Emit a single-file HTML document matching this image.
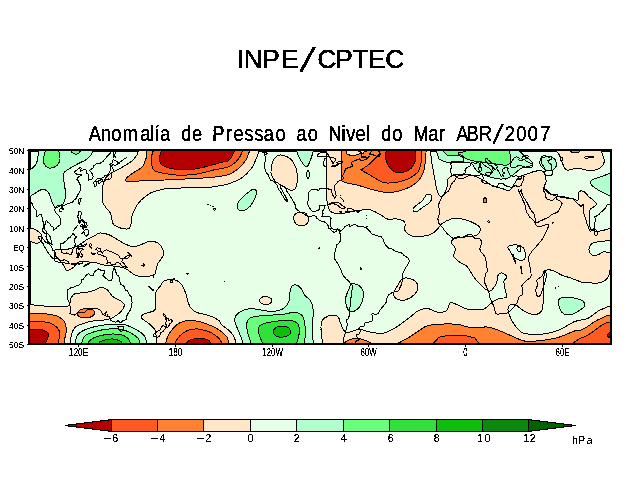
<!DOCTYPE html>
<html><head><meta charset="utf-8"><style>
html,body{margin:0;padding:0;background:#fff;}
svg{display:block;}
text{font-family:"Liberation Sans",Arial,sans-serif;fill:#000;}
</style></head><body>
<svg width="640" height="494" viewBox="0 0 640 494">
<rect width="640" height="494" fill="#fff"/>
<g filter="url(#bin)">
<text x="236.68 243.85 262.35 281.25 299.48 317.57 335.15 352.41 368.05 385.27" y="68 68 68 68 71.15 68 68 68 68 68" rotate="0 0 0 0 12.97 0 0 0 0 0" font-size="26.2" stroke="#000" stroke-width="0.25">INPE<tspan font-size="37.20" stroke-width="0">/</tspan>CPTEC</text>
<text transform="scale(0.840,1)" x="105.79 119.98 132.54 145.93 166.93 178.30 183.80 190.50 203.82 215.63 228.60 240.94 252.68 268.67 278.12 291.06 302.96 314.07 328.01 340.42 353.12 366.46 378.87 390.95 406.52 412.13 423.36 435.44 440.01 453.85 467.06 479.46 492.38 509.90 522.48 530.57 543.17 555.48 569.88 586.26 600.93 614.74 628.31 643.05" y="141 141 141 141 141 141 141 141 141 141 141 141 141 141 141 141 141 141 141 141 141 141 141 141 141 141 141 141 141 141 141 141 141 141 141 141 141 141 141 143.22 141 141 141 141" rotate="0 0 0 0 0 0 0 0 0 0 0 0 0 0 0 0 0 0 0 0 0 0 0 0 0 0 0 0 0 0 0 0 0 0 0 0 0 0 0 13.78 0 0 0 0" font-size="21.8" stroke="#000" stroke-width="0.12">Anomalía de Pressao ao Nivel do Mar ABR<tspan font-size="29.98" stroke-width="0">/</tspan>2007</text>
</g>
<defs><filter id="bin" x="0" y="0" width="100%" height="100%" filterUnits="userSpaceOnUse"><feComponentTransfer><feFuncA type="discrete" tableValues="0 1 1"/></feComponentTransfer></filter><filter id="bin2" x="0" y="0" width="100%" height="100%" filterUnits="userSpaceOnUse"><feComponentTransfer><feFuncA type="discrete" tableValues="0 0 1 1 1"/></feComponentTransfer></filter><clipPath id="mc"><rect x="29" y="150" width="582" height="194"/></clipPath></defs>
<g clip-path="url(#mc)" shape-rendering="crispEdges">
<g stroke="#000" stroke-width="1">
<rect x="30" y="151" width="580" height="192" fill="#e6ffe6"/>
<path d="M138.50,150.00 L137.50,154.25 C136.67,155.29 134.58,158.62 132.50,160.50 C130.42,162.38 127.25,164.08 125.00,165.50 C122.75,166.92 120.83,168.00 119.00,169.00 C117.17,170.00 115.83,170.42 114.00,171.50 C112.17,172.58 109.62,174.08 108.00,175.50 C106.38,176.92 105.13,178.42 104.30,180.00 C103.47,181.58 103.30,182.50 103.00,185.00 C102.70,187.50 102.60,192.17 102.50,195.00 C102.40,197.83 101.75,199.80 102.40,202.00 C103.05,204.20 105.05,206.33 106.40,208.20 C107.75,210.07 109.57,211.18 110.50,213.20 C111.43,215.22 111.50,218.43 112.00,220.30 C112.50,222.17 112.40,223.22 113.50,224.40 C114.60,225.58 116.75,226.65 118.60,227.40 C120.45,228.15 122.87,228.72 124.60,228.90 C126.33,229.08 127.93,229.32 129.00,228.50 C130.07,227.68 130.50,226.08 131.00,224.00 C131.50,221.92 131.33,218.50 132.00,216.00 C132.67,213.50 133.92,211.17 135.00,209.00 C136.08,206.83 137.07,204.83 138.50,203.00 C139.93,201.17 141.45,199.75 143.60,198.00 C145.75,196.25 148.67,193.83 151.40,192.50 C154.13,191.17 157.40,190.65 160.00,190.00 C162.60,189.35 161.92,188.97 167.00,188.60 C172.08,188.23 184.00,187.93 190.50,187.80 C197.00,187.67 201.42,188.10 206.00,187.80 C210.58,187.50 214.33,186.63 218.00,186.00 C221.67,185.37 224.00,185.38 228.00,184.00 C232.00,182.62 238.10,180.32 242.00,177.70 C245.90,175.08 248.92,171.68 251.40,168.30 C253.88,164.92 255.98,159.22 256.90,157.40 L259.50,150.00 L138.50,150.00Z" fill="#ffe6c6"/>
<path d="M281.10,155.00 C283.45,155.40 288.02,156.78 290.50,159.00 C292.98,161.22 294.83,164.93 296.00,168.30 C297.17,171.68 297.63,175.87 297.50,179.25 C297.37,182.63 296.37,186.78 295.20,188.60 C294.03,190.42 292.32,190.47 290.50,190.20 C288.68,189.93 286.85,188.57 284.25,187.00 C281.65,185.43 277.11,183.13 274.90,180.80 C272.69,178.47 271.40,176.13 271.00,173.00 C270.60,169.87 271.60,164.73 272.50,162.00 C273.40,159.27 274.97,157.77 276.40,156.60 C277.83,155.43 278.75,154.60 281.10,155.00Z" fill="#ffe6c6"/>
<path d="M326.00,150.00 L430.30,150.00 L432.00,163.60 C432.38,165.67 433.48,171.83 434.25,176.00 C435.02,180.17 435.81,185.45 436.60,188.60 C437.39,191.75 438.10,193.67 439.00,194.90 C439.90,196.13 440.71,197.05 442.00,196.00 C443.29,194.95 445.83,191.27 446.75,188.60 C447.67,185.93 446.74,182.05 447.50,180.00 C448.26,177.95 449.43,177.23 451.30,176.30 C453.18,175.37 455.97,174.72 458.75,174.40 C461.53,174.08 464.88,173.93 468.00,174.40 C471.12,174.87 474.67,176.10 477.50,177.20 C480.33,178.30 482.50,179.60 485.00,181.00 C487.50,182.40 489.67,184.35 492.50,185.60 C495.33,186.85 499.18,187.72 502.00,188.50 C504.82,189.28 507.23,191.25 509.40,190.30 C511.57,189.35 513.43,184.98 515.00,182.80 C516.57,180.62 516.92,178.60 518.80,177.20 C520.68,175.80 523.80,175.33 526.30,174.40 C528.80,173.47 531.30,172.23 533.80,171.60 C536.30,170.97 539.43,170.13 541.30,170.60 C543.17,171.07 544.22,172.52 545.00,174.40 C545.78,176.28 546.17,179.72 546.00,181.90 C545.83,184.08 543.83,185.78 544.00,187.50 C544.17,189.22 544.95,190.78 547.00,192.20 C549.05,193.62 553.53,195.23 556.30,196.00 C559.07,196.77 560.95,196.33 563.60,196.80 C566.25,197.27 569.77,198.27 572.20,198.80 C574.63,199.33 577.10,201.10 578.20,200.00 C579.30,198.90 577.88,193.62 578.80,192.20 C579.72,190.78 581.97,190.70 583.70,191.50 C585.43,192.30 587.28,195.27 589.20,197.00 C591.12,198.73 594.10,200.48 595.20,201.90 C596.30,203.32 596.60,204.28 595.80,205.50 C595.00,206.72 591.50,207.37 590.40,209.20 C589.30,211.03 589.20,213.27 589.20,216.50 C589.20,219.73 589.60,226.18 590.40,228.60 C591.20,231.02 592.38,230.60 594.00,231.00 C595.62,231.40 597.47,231.40 600.10,231.00 C602.73,230.60 608.18,229.00 609.80,228.60 L611.00,228.40 L611.00,240.40 L610.30,240.40 C607.57,240.77 597.37,241.52 593.90,242.60 C590.43,243.68 590.15,245.17 589.50,246.90 C588.85,248.63 589.08,251.53 590.00,253.00 C590.92,254.47 592.72,255.90 595.00,255.70 C597.28,255.50 602.25,252.45 603.70,251.80 L611.00,252.40 L611.00,266.00 L609.20,274.30 C608.65,275.20 607.72,278.25 605.90,279.70 C604.08,281.15 601.45,282.50 598.30,283.00 C595.15,283.50 589.73,282.83 587.00,282.70 C584.27,282.57 584.58,282.97 581.90,282.20 C579.22,281.43 574.22,279.27 570.90,278.10 C567.58,276.93 565.05,276.47 562.00,275.20 C558.95,273.93 555.33,271.28 552.60,270.50 C549.87,269.72 547.03,269.58 545.60,270.50 C544.17,271.42 544.35,273.48 544.00,276.00 C543.65,278.52 543.62,281.39 543.50,285.60 C543.38,289.81 543.55,297.08 543.25,301.25 C542.95,305.42 543.01,308.39 541.70,310.60 C540.39,312.81 538.02,314.23 535.40,314.50 C532.78,314.77 528.86,313.50 526.00,312.20 C523.14,310.90 520.13,308.00 518.25,306.70 C516.37,305.40 516.14,304.65 514.70,304.40 C513.26,304.15 510.72,304.27 509.60,305.20 C508.48,306.13 507.80,307.80 508.00,310.00 C508.20,312.20 509.55,315.69 510.80,318.40 C512.05,321.11 513.67,323.90 515.50,326.25 C517.33,328.60 519.67,331.21 521.75,332.50 C523.83,333.79 524.42,333.75 528.00,334.00 C531.58,334.25 538.10,334.63 543.25,334.00 C548.40,333.37 553.69,332.27 558.90,330.20 C564.11,328.13 569.77,323.52 574.50,321.60 C579.23,319.68 583.95,320.03 587.30,318.70 C590.65,317.37 592.67,314.93 594.60,313.60 C596.53,312.27 597.04,311.72 598.90,310.70 C600.76,309.68 604.61,308.03 605.75,307.50 L611.00,305.50 L611.00,344.00 L322.50,344.00 L321.00,329.40 C321.12,328.10 320.58,323.82 321.75,321.60 C322.92,319.38 325.39,317.02 328.00,316.10 C330.61,315.18 335.32,314.93 337.40,316.10 C339.48,317.27 339.47,320.75 340.50,323.10 C341.53,325.45 342.30,328.63 343.60,330.20 C344.90,331.77 345.69,332.63 348.30,332.50 C350.91,332.37 355.87,329.53 359.25,329.40 C362.63,329.27 364.69,331.05 368.60,331.70 C372.51,332.35 378.27,333.95 382.70,333.30 C387.13,332.65 390.77,330.40 395.20,327.80 C399.62,325.20 405.35,320.57 409.25,317.70 C413.15,314.83 415.48,312.12 418.60,310.60 C421.73,309.08 424.87,308.33 428.00,308.60 C431.13,308.87 434.27,311.87 437.40,312.20 C440.52,312.53 444.67,312.17 446.75,310.60 C448.83,309.03 448.59,303.97 449.90,302.80 C451.21,301.63 451.75,302.57 454.60,303.60 C457.45,304.63 462.83,308.00 467.00,309.00 C471.17,310.00 476.67,309.63 479.60,309.60 C482.53,309.57 482.45,310.05 484.60,308.80 C486.75,307.55 490.07,303.82 492.50,302.10 C494.93,300.38 496.87,299.32 499.20,298.50 C501.53,297.68 505.50,298.62 506.50,297.20 C507.50,295.78 505.62,292.63 505.20,290.00 C504.78,287.37 503.70,283.63 504.00,281.40 C504.30,279.17 507.40,278.02 507.00,276.60 C506.60,275.18 503.10,273.10 501.60,272.90 C500.10,272.70 498.92,273.57 498.00,275.40 C497.08,277.23 497.53,281.27 496.10,283.90 C494.67,286.53 492.13,291.20 489.40,291.20 C486.67,291.20 482.38,286.39 479.70,283.90 C477.02,281.41 474.62,277.97 473.30,276.25 C471.98,274.53 472.92,275.34 471.75,273.60 C470.58,271.86 468.38,267.75 466.30,265.80 C464.22,263.85 461.33,263.47 459.25,261.90 C457.17,260.33 454.46,258.62 453.80,256.40 C453.14,254.18 455.70,250.93 455.30,248.60 C454.90,246.27 451.52,244.08 451.40,242.40 C451.28,240.72 452.25,239.42 454.60,238.50 C456.95,237.58 461.87,237.43 465.50,236.90 C469.13,236.37 473.93,236.62 476.40,235.30 C478.87,233.98 480.55,230.95 480.30,229.00 C480.05,227.05 477.88,225.27 474.90,223.60 C471.92,221.93 466.32,219.77 462.40,219.00 C458.48,218.23 454.80,218.23 451.40,219.00 C448.00,219.77 444.15,222.10 442.00,223.60 C439.85,225.10 439.79,226.57 438.50,228.00 C437.21,229.43 436.00,230.98 434.25,232.20 C432.50,233.42 430.71,234.58 428.00,235.30 C425.29,236.02 420.60,236.37 418.00,236.50 C415.40,236.63 414.52,236.95 412.40,236.10 C410.28,235.25 406.60,233.75 405.30,231.40 C404.00,229.05 406.03,224.07 404.60,222.00 C403.18,219.93 399.62,219.50 396.75,219.00 C393.88,218.50 390.02,219.67 387.40,219.00 C384.77,218.33 383.61,216.45 381.00,215.00 C378.39,213.55 374.05,211.22 371.75,210.30 C369.45,209.38 370.04,209.38 367.20,209.50 C364.36,209.62 358.87,210.35 354.70,211.00 C350.53,211.65 346.11,213.25 342.20,213.40 C338.29,213.55 333.70,213.47 331.25,211.90 C328.80,210.33 328.38,207.65 327.50,204.00 C326.62,200.35 326.25,192.33 326.00,190.00 L326.00,150.00Z" fill="#ffe6c6"/>
<path d="M555.75,150.00 L558.90,154.25 C559.42,155.54 560.70,159.39 562.00,162.00 C563.30,164.61 564.10,168.85 566.70,169.90 C569.30,170.95 573.72,168.17 577.60,168.30 C581.48,168.43 586.35,170.70 590.00,170.70 C593.65,170.70 597.13,169.75 599.50,168.30 C601.87,166.85 603.68,164.34 604.20,162.00 C604.72,159.66 602.87,155.54 602.60,154.25 L601.00,150.00 L555.75,150.00Z" fill="#ffe6c6"/>
<path d="M29.00,228.60 L33.90,228.80 C34.60,229.25 36.87,230.62 38.10,231.50 C39.33,232.38 40.65,233.05 41.30,234.10 C41.95,235.15 42.10,236.57 42.00,237.80 C41.90,239.03 41.43,240.58 40.70,241.50 C39.97,242.42 38.73,243.08 37.60,243.30 C36.47,243.52 35.05,243.10 33.90,242.80 C32.75,242.50 31.23,241.72 30.70,241.50 L29.00,241.50 L29.00,228.60Z" fill="#ffe6c6"/>
<path d="M54.60,251.00 C54.85,250.08 54.03,249.67 56.10,249.40 C58.17,249.13 63.35,250.05 67.00,249.40 C70.65,248.75 74.60,247.19 78.00,245.50 C81.40,243.81 84.53,240.95 87.40,239.25 C90.27,237.55 93.10,236.34 95.20,235.30 C97.30,234.26 97.72,233.10 100.00,233.00 C102.28,232.90 106.12,233.68 108.90,234.70 C111.68,235.72 114.10,237.62 116.70,239.10 C119.30,240.58 121.72,242.30 124.50,243.60 C127.28,244.90 130.43,246.82 133.40,246.90 C136.37,246.98 139.53,245.03 142.30,244.10 C145.07,243.17 147.42,241.48 150.00,241.30 C152.58,241.12 155.67,241.70 157.80,243.00 C159.93,244.30 161.87,247.15 162.80,249.10 C163.73,251.05 163.85,252.83 163.40,254.70 C162.95,256.57 161.12,258.63 160.10,260.30 C159.08,261.97 158.13,262.48 157.30,264.70 C156.47,266.92 156.12,271.75 155.10,273.60 C154.08,275.45 152.97,275.25 151.20,275.80 C149.43,276.35 146.92,276.90 144.50,276.90 C142.08,276.90 138.93,276.53 136.70,275.80 C134.47,275.07 132.77,273.60 131.10,272.50 C129.43,271.40 128.55,270.13 126.70,269.20 C124.85,268.27 122.60,267.47 120.00,266.90 C117.40,266.33 114.07,266.17 111.10,265.80 C108.13,265.43 104.85,265.22 102.20,264.70 C99.55,264.18 98.97,263.17 95.20,262.70 C91.43,262.23 83.25,261.12 79.60,261.90 C75.95,262.68 75.40,265.97 73.30,267.40 C71.20,268.83 68.55,270.77 67.00,270.50 C65.45,270.23 65.29,267.62 64.00,265.80 C62.71,263.98 60.82,261.42 59.25,259.60 C57.68,257.78 55.38,256.33 54.60,254.90 C53.83,253.47 54.35,251.92 54.60,251.00Z" fill="#ffe6c6"/>
<path d="M29.00,304.50 L43.60,306.00 C45.68,306.12 53.37,306.55 56.10,306.70 C58.83,306.85 57.89,307.08 60.00,306.90 C62.11,306.72 66.88,307.17 68.75,305.60 C70.62,304.03 70.21,299.48 71.25,297.50 C72.29,295.52 72.71,294.58 75.00,293.75 C77.29,292.92 81.88,293.02 85.00,292.50 C88.12,291.98 91.04,291.43 93.75,290.60 C96.46,289.77 98.96,287.60 101.25,287.50 C103.54,287.40 105.62,288.54 107.50,290.00 C109.38,291.46 110.21,294.38 112.50,296.25 C114.79,298.12 119.27,299.79 121.25,301.25 C123.23,302.71 124.40,303.33 124.40,305.00 C124.40,306.67 122.82,309.38 121.25,311.25 C119.68,313.12 116.88,315.00 115.00,316.25 C113.12,317.50 111.88,318.12 110.00,318.75 C108.12,319.38 106.88,319.58 103.75,320.00 C100.62,320.42 94.79,320.62 91.25,321.25 C87.71,321.88 85.21,322.71 82.50,323.75 C79.79,324.79 76.80,325.86 75.00,327.50 C73.20,329.14 72.50,331.15 71.70,333.60 C70.90,336.05 70.45,340.77 70.20,342.20 L70.00,344.00 L29.00,344.00 L29.00,304.50Z" fill="#ffe6c6"/>
<path d="M164.00,281.00 C166.08,279.97 170.45,278.90 173.30,279.40 C176.15,279.90 179.02,281.67 181.10,284.00 C183.18,286.33 184.73,290.73 185.80,293.40 C186.87,296.07 186.70,297.60 187.50,300.00 C188.30,302.40 189.03,305.72 190.60,307.80 C192.17,309.88 193.77,311.20 196.90,312.50 C200.03,313.80 205.76,314.30 209.40,315.60 C213.04,316.90 216.70,318.78 218.75,320.30 C220.80,321.82 220.03,323.05 221.70,324.70 C223.37,326.35 226.92,328.52 228.75,330.20 C230.58,331.88 231.66,333.25 232.70,334.80 C233.74,336.35 234.48,338.13 235.00,339.50 C235.52,340.87 235.67,342.42 235.80,343.00 L235.80,344.00 L156.10,344.00 L156.10,335.60 C155.85,334.57 155.90,331.48 154.60,329.40 C153.30,327.32 150.40,324.93 148.30,323.10 C146.20,321.27 142.92,319.83 142.00,318.40 C141.08,316.97 141.48,315.53 142.80,314.50 C144.12,313.47 147.82,313.12 149.90,312.20 C151.98,311.28 154.40,312.13 155.30,309.00 C156.20,305.87 154.38,297.30 155.30,293.40 C156.22,289.50 159.35,287.67 160.80,285.60 C162.25,283.53 161.92,282.03 164.00,281.00Z" fill="#ffe6c6"/>
<path d="M294.00,216.00 C294.42,214.50 295.67,213.58 297.00,213.00 C298.33,212.42 300.42,212.33 302.00,212.50 C303.58,212.67 305.42,213.08 306.50,214.00 C307.58,214.92 308.25,216.58 308.50,218.00 C308.75,219.42 308.75,221.25 308.00,222.50 C307.25,223.75 305.50,225.00 304.00,225.50 C302.50,226.00 300.58,226.08 299.00,225.50 C297.42,224.92 295.33,223.58 294.50,222.00 C293.67,220.42 293.58,217.50 294.00,216.00Z" fill="#ffe6c6"/>
<path d="M259.50,299.50 C259.83,298.58 261.25,297.48 262.50,297.00 C263.75,296.52 265.58,296.35 267.00,296.60 C268.42,296.85 270.20,297.68 271.00,298.50 C271.80,299.32 272.13,300.58 271.80,301.50 C271.47,302.42 270.30,303.53 269.00,304.00 C267.70,304.47 265.42,304.55 264.00,304.30 C262.58,304.05 261.25,303.30 260.50,302.50 C259.75,301.70 259.17,300.42 259.50,299.50Z" fill="#ffe6c6"/>
<path d="M403.00,278.60 C405.48,277.57 409.93,278.23 412.40,279.40 C414.87,280.57 417.28,283.27 417.80,285.60 C418.32,287.93 417.47,291.05 415.50,293.40 C413.53,295.75 409.12,298.78 406.00,299.70 C402.88,300.62 398.82,299.95 396.75,298.90 C394.68,297.85 393.48,295.62 393.60,293.40 C393.73,291.18 395.93,288.07 397.50,285.60 C399.07,283.13 400.52,279.63 403.00,278.60Z" fill="#ffe6c6"/>
<path d="M413.40,208.10 C412.77,209.24 413.07,210.72 413.75,211.25 C414.43,211.78 416.04,211.88 417.50,211.25 C418.96,210.62 420.73,208.75 422.50,207.50 C424.27,206.25 426.64,205.00 428.10,203.75 C429.56,202.50 430.67,201.25 431.25,200.00 C431.83,198.75 431.91,197.18 431.60,196.25 C431.29,195.32 430.29,194.61 429.40,194.40 C428.51,194.19 427.19,194.28 426.25,195.00 C425.31,195.72 424.58,197.60 423.75,198.75 C422.92,199.90 422.29,200.96 421.25,201.90 C420.21,202.84 418.81,203.37 417.50,204.40 C416.19,205.43 414.02,206.96 413.40,208.10Z" fill="#e6ffe6"/>
<path d="M507.90,247.20 C508.17,246.10 510.27,245.40 512.10,245.10 C513.93,244.80 517.05,244.97 518.90,245.40 C520.75,245.83 522.23,246.73 523.20,247.70 C524.17,248.67 524.27,250.18 524.70,251.20 C525.13,252.22 525.80,252.50 525.80,253.80 C525.80,255.10 525.50,257.90 524.70,259.00 C523.90,260.10 522.32,260.40 521.00,260.40 C519.68,260.40 518.02,259.48 516.80,259.00 C515.58,258.52 514.75,258.72 513.70,257.50 C512.65,256.28 511.47,253.42 510.50,251.70 C509.53,249.98 507.63,248.30 507.90,247.20Z" fill="#e6ffe6"/>
<path d="M146.90,150.00 L146.25,158.00 C145.62,159.46 144.21,164.58 142.50,166.75 C140.79,168.92 138.08,169.62 136.00,171.00 C133.92,172.38 131.62,173.75 130.00,175.00 C128.38,176.25 126.75,177.42 126.25,178.50 C125.75,179.58 124.92,181.08 127.00,181.50 C129.08,181.92 134.68,181.22 138.75,181.00 C142.82,180.78 147.03,180.37 151.40,180.20 C155.78,180.03 161.07,180.12 165.00,180.00 C168.93,179.88 169.45,179.78 175.00,179.50 C180.55,179.22 191.63,178.72 198.30,178.30 C204.97,177.88 210.05,177.58 215.00,177.00 C219.95,176.42 224.67,175.80 228.00,174.80 C231.33,173.80 232.92,172.34 235.00,171.00 C237.08,169.66 238.54,168.75 240.50,166.75 C242.46,164.75 245.71,160.29 246.75,159.00 L249.90,150.00 L146.90,150.00Z" fill="#ff8232"/>
<path d="M341.50,150.00 L342.00,165.00 C341.92,167.33 341.18,176.15 341.50,179.00 C341.82,181.85 341.27,181.08 343.90,182.10 C346.53,183.12 352.60,183.87 357.30,185.10 C362.00,186.33 367.17,188.27 372.10,189.50 C377.03,190.73 382.45,192.25 386.90,192.50 C391.35,192.75 394.83,191.98 398.80,191.00 C402.77,190.02 407.23,188.57 410.70,186.60 C414.17,184.63 417.38,181.92 419.60,179.20 C421.82,176.48 423.02,173.52 424.00,170.30 C424.98,167.08 425.25,161.63 425.50,159.90 L426.20,150.00 L341.50,150.00Z" fill="#ff8232"/>
<path d="M570.00,150.00 L571.50,152.00 C572.08,152.13 573.75,152.80 575.00,152.80 C576.25,152.80 578.33,152.13 579.00,152.00 L580.50,150.00 L570.00,150.00Z" fill="#ff8232"/>
<path d="M483.50,199.00 C483.75,198.25 484.98,197.83 485.50,198.00 C486.02,198.17 486.52,199.25 486.60,200.00 C486.68,200.75 486.43,202.08 486.00,202.50 C485.57,202.92 484.42,203.08 484.00,202.50 C483.58,201.92 483.25,199.75 483.50,199.00Z" fill="#ff8232"/>
<path d="M29.00,313.80 L46.20,313.80 C47.90,314.15 53.57,314.85 56.40,315.90 C59.23,316.95 61.65,318.55 63.20,320.10 C64.75,321.65 65.20,323.22 65.70,325.20 C66.20,327.18 66.33,329.87 66.20,332.00 C66.07,334.13 65.18,336.17 64.90,338.00 C64.62,339.83 64.57,342.17 64.50,343.00 L64.50,344.00 L29.00,344.00 L29.00,313.80Z" fill="#ff8232"/>
<path d="M77.50,312.50 C78.12,311.57 79.38,310.02 81.25,309.40 C83.12,308.77 86.56,308.44 88.75,308.75 C90.94,309.06 93.68,310.11 94.40,311.25 C95.12,312.39 94.04,314.56 93.10,315.60 C92.16,316.64 90.72,317.18 88.75,317.50 C86.78,317.82 83.12,317.92 81.25,317.50 C79.38,317.08 78.12,315.83 77.50,315.00 C76.88,314.17 76.88,313.43 77.50,312.50Z" fill="#ff8232"/>
<path d="M165.60,344.00 L165.60,343.00 C166.12,341.57 166.92,337.40 168.75,334.40 C170.58,331.40 173.99,327.22 176.60,325.00 C179.21,322.78 181.02,321.75 184.40,321.10 C187.78,320.45 192.73,320.45 196.90,321.10 C201.07,321.75 205.76,323.57 209.40,325.00 C213.04,326.43 216.43,328.32 218.75,329.70 C221.07,331.08 221.89,332.05 223.30,333.30 C224.71,334.55 226.29,335.58 227.20,337.20 C228.11,338.82 228.49,342.03 228.75,343.00 L228.75,344.00 L165.60,344.00Z" fill="#ff8232"/>
<path d="M344.00,344.00 L344.00,343.00 C344.67,342.58 346.67,341.17 348.00,340.50 C349.33,339.83 350.42,339.38 352.00,339.00 C353.58,338.62 355.67,338.12 357.50,338.20 C359.33,338.28 361.25,338.95 363.00,339.50 C364.75,340.05 366.75,340.92 368.00,341.50 C369.25,342.08 370.08,342.75 370.50,343.00 L370.50,344.00 L344.00,344.00Z" fill="#ff8232"/>
<path d="M396.75,344.00 L396.75,344.00 L409.25,337.20 C410.81,336.17 415.48,332.95 418.60,331.00 C421.73,329.05 423.31,326.68 428.00,325.50 C432.69,324.32 441.54,324.03 446.75,323.90 C451.96,323.77 455.08,324.05 459.25,324.70 C463.42,325.35 467.06,327.42 471.75,327.80 C476.44,328.18 482.97,326.60 487.40,327.00 C491.82,327.40 494.40,328.77 498.30,330.20 C502.20,331.63 506.89,333.92 510.80,335.60 C514.71,337.28 518.88,339.35 521.75,340.30 C524.62,341.25 524.42,341.30 528.00,341.30 C531.58,341.30 538.10,340.98 543.25,340.30 C548.40,339.62 553.69,338.75 558.90,337.20 C564.11,335.65 570.98,332.13 574.50,331.00 C578.02,329.87 577.87,331.12 580.00,330.40 C582.13,329.68 584.87,328.17 587.30,326.70 C589.73,325.23 592.18,323.05 594.60,321.60 C597.02,320.15 599.75,318.97 601.80,318.00 C603.85,317.03 606.05,316.17 606.90,315.80 L611.00,315.60 L611.00,344.00 L396.75,344.00Z" fill="#ff8232"/>
<path d="M345.50,150.00 L347.00,153.90 C347.70,154.18 349.80,155.38 351.20,155.60 C352.60,155.82 354.00,155.48 355.40,155.20 C356.80,154.92 358.20,154.27 359.60,153.90 C361.00,153.53 363.10,153.15 363.80,153.00 L364.70,150.00 L345.50,150.00Z" fill="#ffe6c6"/>
<path d="M153.50,150.00 L151.50,156.00 C151.45,157.22 150.78,160.92 151.20,163.30 C151.62,165.68 152.53,168.75 154.00,170.30 C155.47,171.85 157.83,172.02 160.00,172.60 C162.17,173.18 164.50,173.42 167.00,173.80 C169.50,174.18 172.38,174.65 175.00,174.90 C177.62,175.15 178.82,175.48 182.70,175.30 C186.58,175.12 193.08,174.70 198.30,173.80 C203.52,172.90 209.05,171.03 214.00,169.90 C218.95,168.77 224.37,168.32 228.00,167.00 C231.63,165.68 233.72,163.87 235.80,162.00 C237.88,160.13 239.72,156.83 240.50,155.80 L242.80,150.00 L153.50,150.00Z" fill="#ff5a22"/>
<path d="M379.50,150.00 L379.50,153.90 C378.75,154.65 376.73,156.67 375.00,158.40 C373.27,160.13 371.32,162.45 369.10,164.30 C366.88,166.15 362.93,168.50 361.70,169.50 C360.47,170.50 360.22,169.32 361.70,170.30 C363.18,171.28 367.88,173.80 370.60,175.40 C373.32,177.00 375.53,178.65 378.00,179.90 C380.47,181.15 382.18,182.53 385.40,182.90 C388.62,183.27 393.33,182.85 397.30,182.10 C401.27,181.35 405.73,180.13 409.20,178.40 C412.67,176.67 416.13,174.30 418.10,171.70 C420.07,169.10 420.52,164.28 421.00,162.80 L421.00,150.00 L379.50,150.00Z" fill="#ff5a22"/>
<path d="M29.00,321.40 L43.60,321.80 C44.88,322.08 49.17,322.65 51.30,323.50 C53.43,324.35 55.05,325.62 56.40,326.90 C57.75,328.18 58.90,329.63 59.40,331.20 C59.90,332.77 59.55,334.33 59.40,336.30 C59.25,338.27 58.65,341.88 58.50,343.00 L58.50,344.00 L29.00,344.00 L29.00,321.40Z" fill="#ff5a22"/>
<path d="M175.00,344.00 L175.00,343.00 C175.78,341.82 177.62,337.98 179.70,335.90 C181.78,333.82 184.63,331.67 187.50,330.50 C190.37,329.33 193.52,328.77 196.90,328.90 C200.28,329.02 204.83,330.27 207.80,331.25 C210.77,332.23 212.77,333.55 214.70,334.80 C216.63,336.05 218.23,337.38 219.40,338.75 C220.57,340.12 221.32,342.29 221.70,343.00 L221.70,344.00 L175.00,344.00Z" fill="#ff5a22"/>
<path d="M432.70,344.00 L432.70,344.00 L439.00,337.20 C440.55,336.93 444.13,335.87 448.30,335.60 C452.47,335.33 459.57,335.20 464.00,335.60 C468.43,336.00 473.08,337.60 474.90,338.00 L479.60,344.00 L479.60,344.00 L432.70,344.00Z" fill="#ff5a22"/>
<path d="M571.40,344.00 L571.40,344.00 L580.00,338.40 C581.22,337.92 584.87,336.83 587.30,335.50 C589.73,334.17 592.42,331.98 594.60,330.40 C596.78,328.82 598.58,327.22 600.40,326.00 C602.22,324.78 604.65,323.58 605.50,323.10 L611.00,322.40 L611.00,344.00 L571.40,344.00Z" fill="#ff5a22"/>
<path d="M162.00,150.00 L160.50,153.00 C160.35,153.83 159.65,156.33 159.60,158.00 C159.55,159.67 159.38,161.58 160.20,163.00 C161.02,164.42 162.87,165.62 164.50,166.50 C166.13,167.38 167.48,167.77 170.00,168.30 C172.52,168.83 175.40,169.58 179.60,169.70 C183.80,169.82 190.00,169.72 195.20,169.00 C200.40,168.28 206.33,166.52 210.80,165.40 C215.27,164.28 219.13,163.03 222.00,162.30 C224.87,161.57 226.35,161.95 228.00,161.00 C229.65,160.05 231.25,157.33 231.90,156.60 L235.00,150.00 L162.00,150.00Z" fill="#b40000"/>
<path d="M386.20,150.00 L385.40,158.40 C385.90,159.63 386.92,163.58 388.40,165.80 C389.88,168.02 392.07,170.58 394.30,171.70 C396.53,172.82 399.07,172.98 401.80,172.50 C404.53,172.02 408.48,170.65 410.70,168.80 C412.92,166.95 414.37,162.63 415.10,161.40 L415.90,150.00 L386.20,150.00Z" fill="#b40000"/>
<path d="M29.00,329.10 L41.90,329.50 C43.03,330.20 47.98,331.72 48.70,333.70 C49.42,335.68 46.77,339.85 46.20,341.40 C45.63,342.95 45.45,342.73 45.30,343.00 L45.30,344.00 L29.00,344.00 L29.00,329.10Z" fill="#b40000"/>
<path d="M186.70,344.00 L186.70,343.00 C187.35,342.47 188.38,340.58 190.60,339.80 C192.82,339.02 197.13,338.30 200.00,338.30 C202.87,338.30 205.98,339.02 207.80,339.80 C209.62,340.58 210.38,342.47 210.90,343.00 L210.90,344.00 L186.70,344.00Z" fill="#b40000"/>
<path d="M611.00,332.40 L609.80,332.60 C609.45,332.95 607.93,333.85 607.70,334.70 C607.47,335.55 608.28,337.20 608.40,337.70 L611.00,338.20 L611.00,332.40Z" fill="#b40000"/>
<path d="M38.90,150.00 L93.60,150.00 L90.50,155.80 C89.67,156.50 87.58,158.68 85.50,160.00 C83.42,161.32 80.71,162.29 78.00,163.75 C75.29,165.21 71.54,167.29 69.25,168.75 C66.96,170.21 65.19,170.83 64.25,172.50 C63.31,174.17 63.49,176.25 63.60,178.75 C63.71,181.25 64.58,184.38 64.90,187.50 C65.22,190.62 65.82,194.79 65.50,197.50 C65.18,200.21 64.25,202.18 63.00,203.75 C61.75,205.32 59.35,206.28 58.00,206.90 C56.65,207.53 55.94,208.44 54.90,207.50 C53.86,206.56 52.69,203.54 51.75,201.25 C50.81,198.96 50.29,195.62 49.25,193.75 C48.21,191.88 46.96,190.62 45.50,190.00 C44.04,189.38 42.38,189.38 40.50,190.00 C38.62,190.62 35.92,192.71 34.25,193.75 C32.58,194.79 31.12,195.83 30.50,196.25 L29.00,198.00 L29.00,170.00 L29.80,170.00 C30.15,169.75 30.93,169.33 31.90,168.50 C32.87,167.67 34.67,166.42 35.60,165.00 C36.53,163.58 37.18,160.83 37.50,160.00 L38.90,150.00Z" fill="#b0ffcc"/>
<path d="M296.50,150.00 L297.50,154.00 C298.00,155.00 299.42,158.17 300.50,160.00 C301.58,161.83 303.08,163.83 304.00,165.00 C304.92,166.17 305.33,166.92 306.00,167.00 C306.67,167.08 307.25,166.67 308.00,165.50 C308.75,164.33 309.75,161.92 310.50,160.00 C311.25,158.08 312.17,155.00 312.50,154.00 L313.80,150.00 L296.50,150.00Z" fill="#b0ffcc"/>
<path d="M307.20,171.00 C307.47,170.35 308.07,170.10 308.40,170.60 C308.73,171.10 309.17,172.72 309.20,174.00 C309.23,175.28 308.90,177.63 308.60,178.30 C308.30,178.97 307.70,178.63 307.40,178.00 C307.10,177.37 306.83,175.67 306.80,174.50 C306.77,173.33 306.93,171.65 307.20,171.00Z" fill="#b0ffcc"/>
<path d="M253.50,189.20 C254.45,189.12 255.48,189.67 256.00,190.30 C256.52,190.93 256.82,191.65 256.60,193.00 C256.38,194.35 255.75,196.22 254.70,198.40 C253.65,200.58 251.93,204.17 250.30,206.10 C248.67,208.03 246.72,209.27 244.90,210.00 C243.08,210.73 240.68,211.15 239.40,210.50 C238.12,209.85 237.20,207.75 237.20,206.10 C237.20,204.45 238.12,202.42 239.40,200.60 C240.68,198.78 243.08,196.83 244.90,195.20 C246.72,193.57 248.87,191.80 250.30,190.80 C251.73,189.80 252.55,189.28 253.50,189.20Z" fill="#b0ffcc"/>
<path d="M435.80,150.00 L439.00,159.00 C440.17,159.50 444.00,161.50 446.00,162.00 C448.00,162.50 448.00,162.00 451.00,162.00 C454.00,162.00 460.50,161.67 464.00,162.00 C467.50,162.33 470.00,162.67 472.00,164.00 C474.00,165.33 474.33,168.33 476.00,170.00 C477.67,171.67 479.67,172.83 482.00,174.00 C484.33,175.17 487.00,176.17 490.00,177.00 C493.00,177.83 497.00,178.83 500.00,179.00 C503.00,179.17 505.67,178.83 508.00,178.00 C510.33,177.17 511.77,175.62 514.00,174.00 C516.23,172.38 518.35,169.77 521.40,168.30 C524.45,166.83 530.74,166.50 532.30,165.20 C533.86,163.90 531.80,161.80 530.75,160.50 C529.70,159.20 527.56,158.70 526.00,157.40 C524.44,156.10 522.17,153.48 521.40,152.70 L518.25,150.00 L435.80,150.00Z" fill="#b0ffcc"/>
<path d="M540.90,159.00 C541.97,157.83 544.45,156.87 546.40,156.60 C548.35,156.33 550.92,156.37 552.60,157.40 C554.28,158.43 556.10,160.98 556.50,162.80 C556.90,164.62 556.17,166.98 555.00,168.30 C553.83,169.62 551.46,170.70 549.50,170.70 C547.54,170.70 544.83,169.48 543.25,168.30 C541.67,167.12 540.39,165.15 540.00,163.60 C539.61,162.05 539.83,160.17 540.90,159.00Z" fill="#b0ffcc"/>
<path d="M611.00,173.00 L599.50,177.20 C598.17,177.75 592.82,179.22 591.50,180.50 C590.18,181.78 590.57,183.37 591.60,184.90 C592.63,186.43 595.47,188.28 597.70,189.70 C599.93,191.12 603.78,192.78 605.00,193.40 L611.00,196.40 L611.00,173.00Z" fill="#b0ffcc"/>
<path d="M75.60,344.00 L75.60,342.20 C75.87,341.03 75.63,337.28 77.20,335.20 C78.77,333.12 81.37,331.27 85.00,329.70 C88.63,328.13 94.32,326.72 99.00,325.80 C103.68,324.88 108.67,324.33 113.10,324.20 C117.53,324.07 121.68,324.08 125.60,325.00 C129.52,325.92 133.47,327.88 136.60,329.70 C139.73,331.52 142.72,333.82 144.40,335.90 C146.08,337.98 146.32,341.15 146.70,342.20 L147.00,344.00 L75.60,344.00Z" fill="#b0ffcc"/>
<path d="M242.40,344.00 L242.40,343.00 C242.33,342.55 242.58,342.18 242.00,340.30 C241.42,338.42 239.93,334.30 238.90,331.70 C237.87,329.10 236.52,326.90 235.80,324.70 C235.08,322.50 234.07,320.53 234.60,318.50 C235.13,316.47 236.43,314.15 239.00,312.50 C241.57,310.85 246.62,309.05 250.00,308.60 C253.38,308.15 255.62,309.33 259.25,309.80 C262.88,310.27 267.84,311.53 271.75,311.40 C275.66,311.27 279.82,310.69 282.70,309.00 C285.57,307.31 287.70,304.62 289.00,301.25 C290.30,297.88 289.47,291.49 290.50,288.75 C291.53,286.01 293.50,284.93 295.20,284.80 C296.90,284.68 299.13,286.30 300.70,288.00 C302.27,289.70 302.92,292.79 304.60,295.00 C306.28,297.21 309.37,298.65 310.80,301.25 C312.23,303.85 312.93,306.69 313.20,310.60 C313.47,314.51 312.53,322.35 312.40,324.70 L313.20,344.00 L242.40,344.00Z" fill="#b0ffcc"/>
<path d="M351.40,284.00 C353.09,283.48 357.28,284.28 359.25,285.60 C361.22,286.92 362.68,289.29 363.20,291.90 C363.72,294.51 363.32,298.40 362.40,301.25 C361.48,304.10 359.78,307.31 357.70,309.00 C355.62,310.69 351.85,312.17 349.90,311.40 C347.95,310.63 346.65,306.87 346.00,304.40 C345.35,301.93 345.48,299.21 346.00,296.60 C346.52,293.99 348.20,290.85 349.10,288.75 C350.00,286.65 349.71,284.52 351.40,284.00Z" fill="#b0ffcc"/>
<path d="M558.90,299.70 C559.55,297.87 561.00,297.57 563.60,297.30 C566.20,297.03 571.25,297.44 574.50,298.10 C577.75,298.76 581.40,299.93 583.10,301.25 C584.80,302.57 585.35,304.44 584.70,306.00 C584.05,307.56 581.42,309.18 579.20,310.60 C576.98,312.02 574.00,313.98 571.40,314.50 C568.80,315.02 565.55,314.78 563.60,313.75 C561.65,312.72 560.48,310.64 559.70,308.30 C558.92,305.96 558.25,301.53 558.90,299.70Z" fill="#b0ffcc"/>
<path d="M47.00,150.00 L45.00,152.20 C44.72,153.28 43.47,156.83 43.30,158.70 C43.13,160.57 43.40,161.98 44.00,163.40 C44.60,164.82 45.80,166.42 46.90,167.20 C48.00,167.98 49.20,168.18 50.60,168.10 C52.00,168.02 53.97,167.48 55.30,166.70 C56.63,165.92 57.82,164.73 58.60,163.40 C59.38,162.07 59.85,160.43 60.00,158.70 C60.15,156.97 59.58,153.95 59.50,153.00 L58.00,150.00 L47.00,150.00Z" fill="#6aff7a"/>
<path d="M70.50,150.00 L72.00,152.50 C72.58,152.80 74.33,154.17 75.50,154.30 C76.67,154.43 78.42,153.47 79.00,153.30 L81.00,150.00 L70.50,150.00Z" fill="#6aff7a"/>
<path d="M442.00,150.00 L446.75,155.00 C448.83,155.13 455.61,155.02 459.25,155.80 C462.89,156.58 465.21,158.67 468.60,159.70 C471.99,160.73 475.43,161.35 479.60,162.00 C483.77,162.65 489.20,163.07 493.60,163.60 C498.00,164.13 503.13,165.47 506.00,165.20 C508.87,164.93 510.13,163.82 510.80,162.00 C511.47,160.18 510.13,155.54 510.00,154.25 L509.25,150.00 L442.00,150.00Z" fill="#6aff7a"/>
<path d="M81.90,344.00 L81.90,342.20 C82.42,341.15 82.65,337.72 85.00,335.90 C87.35,334.07 91.83,332.42 96.00,331.25 C100.17,330.08 105.58,329.16 110.00,328.90 C114.42,328.64 118.85,328.92 122.50,329.70 C126.15,330.48 129.30,332.17 131.90,333.60 C134.50,335.03 136.80,336.87 138.10,338.30 C139.40,339.73 139.43,341.55 139.70,342.20 L139.70,344.00 L81.90,344.00Z" fill="#6aff7a"/>
<path d="M250.60,344.00 L250.60,343.00 C250.47,342.42 250.32,341.38 249.80,339.50 C249.28,337.62 248.02,334.30 247.50,331.70 C246.98,329.10 246.53,325.93 246.70,323.90 C246.87,321.87 247.45,320.67 248.50,319.50 C249.55,318.33 249.92,317.60 253.00,316.90 C256.08,316.20 262.05,315.70 267.00,315.30 C271.95,314.90 278.00,315.02 282.70,314.50 C287.40,313.98 291.82,311.80 295.20,312.20 C298.58,312.60 301.32,314.03 303.00,316.90 C304.68,319.77 305.03,325.05 305.30,329.40 C305.57,333.75 304.72,340.73 304.60,343.00 L304.60,344.00 L250.60,344.00Z" fill="#6aff7a"/>
<path d="M88.10,344.00 L88.10,342.20 C89.15,341.42 91.27,338.80 94.40,337.50 C97.53,336.20 102.73,334.92 106.90,334.40 C111.07,333.88 116.02,333.88 119.40,334.40 C122.78,334.92 125.38,336.20 127.20,337.50 C129.02,338.80 129.78,341.42 130.30,342.20 L130.30,344.00 L88.10,344.00Z" fill="#30e03c"/>
<path d="M262.40,344.00 L262.40,343.00 C261.75,341.25 259.02,335.29 258.50,332.50 C257.98,329.71 258.08,327.82 259.25,326.25 C260.42,324.68 262.11,324.01 265.50,323.10 C268.89,322.19 275.18,321.18 279.60,320.80 C284.02,320.42 288.88,320.15 292.00,320.80 C295.12,321.45 297.12,322.50 298.30,324.70 C299.48,326.90 299.36,330.95 299.10,334.00 C298.84,337.05 297.14,341.50 296.75,343.00 L296.75,344.00 L262.40,344.00Z" fill="#30e03c"/>
<path d="M99.00,344.00 L99.00,342.20 C100.05,341.80 102.95,340.33 105.30,339.80 C107.65,339.27 110.75,338.87 113.10,339.00 C115.45,339.13 117.97,340.07 119.40,340.60 C120.83,341.13 121.32,341.93 121.70,342.20 L121.70,344.00 L99.00,344.00Z" fill="#0abe0a"/>
<path d="M273.40,331.70 C273.40,330.28 274.57,328.42 276.00,327.50 C277.43,326.58 280.00,326.23 282.00,326.20 C284.00,326.17 286.57,326.42 288.00,327.30 C289.43,328.18 290.52,330.13 290.60,331.50 C290.68,332.87 289.93,334.55 288.50,335.50 C287.07,336.45 284.08,337.12 282.00,337.20 C279.92,337.28 277.43,336.92 276.00,336.00 C274.57,335.08 273.40,333.12 273.40,331.70Z" fill="#0abe0a"/>
</g>
<path d="M111.0,148.1L111.0,150.0L110.5,152.9L107.7,155.8L105.3,158.7L102.9,161.6L98.9,164.0L97.1,163.4L95.1,164.9L93.7,165.9L93.4,167.8L91.6,169.0L90.0,169.6L89.8,171.0L91.3,172.1L92.2,173.7L93.0,175.6L93.0,177.2L92.6,178.9L90.1,179.7L88.2,180.1L88.2,178.1L88.5,176.2L88.5,174.2L87.7,173.7L86.6,173.3L86.3,171.9L86.6,170.4L85.0,169.4L83.5,169.8L81.6,170.6L80.0,171.7L80.4,170.8L80.4,169.6L81.4,168.2L79.6,167.7L78.7,168.8L77.2,169.6L75.6,171.0L74.1,171.3L74.1,172.5L75.1,173.3L76.2,173.7L77.1,174.8L78.3,174.1L80.1,174.1L81.9,174.4L81.6,175.4L79.5,176.2L78.5,177.0L77.2,178.1L76.9,179.7L78.3,180.5L79.2,183.0L79.5,184.3L80.9,185.5L80.9,186.9L79.8,188.0L80.9,189.0L80.4,190.7L79.5,191.9L79.0,192.7L78.2,194.0L77.2,196.0L76.6,197.7L75.6,199.1L74.8,199.5L73.3,201.0L72.5,202.0L70.6,202.8L68.5,203.7L67.4,203.9L65.9,204.7L64.1,205.3L62.4,205.9L62.0,207.6L61.2,206.3L60.3,205.3L58.5,205.1L56.4,206.6L55.2,208.4L54.8,210.7L56.1,213.1L57.8,215.0L58.8,216.0L59.8,217.5L60.4,220.2L60.4,223.3L60.1,224.9L58.6,225.9L57.0,227.0L55.9,228.6L53.3,230.3L53.8,227.6L52.7,226.6L51.2,226.4L50.2,224.5L49.6,223.3L47.8,222.4L47.0,221.0L46.4,220.8L45.6,221.4L45.4,223.1L44.7,225.7L44.3,227.0L44.4,229.3L46.0,230.9L46.5,233.0L47.7,233.8L49.1,235.2L51.0,237.7L50.9,239.6L51.2,242.0L52.3,244.3L51.4,244.5L49.1,242.7L47.8,241.2L47.0,239.4L46.0,236.5L46.2,234.4L45.1,233.4L43.0,231.5L42.8,229.5L43.3,227.2L43.3,222.9L42.6,219.6L41.7,215.0L41.0,214.0L39.4,214.4L38.0,216.3L36.2,216.0L36.7,213.1L36.3,210.5L35.1,209.2L34.1,208.0L33.0,205.9L32.3,203.7L31.8,202.8L30.2,203.9L28.6,204.3 M113.4,149.0L113.7,154.8L113.2,157.6L114.4,156.4L115.8,157.4L114.8,155.2L115.3,151.9L117.1,151.6L116.0,149.0 M113.1,158.9L114.7,160.5L117.1,161.6L118.7,162.8L119.5,163.0L117.9,163.6L115.5,165.5L113.1,164.6L111.5,165.9L110.2,166.7L110.0,164.6L110.8,163.0L112.4,163.0L112.9,161.1L113.1,158.9 M112.4,166.7L113.4,170.2L112.7,172.7L111.8,172.7L111.6,175.2L111.1,177.2L111.5,177.7L110.0,179.3L108.7,178.7L108.2,179.9L107.3,179.9L105.3,179.9L105.0,180.5L103.7,182.0L102.4,181.4L102.4,179.9L100.8,179.7L98.9,180.3L97.4,181.2L95.6,181.0L96.0,180.3L98.2,178.1L100.5,178.1L103.1,177.9L103.9,177.5L105.0,175.0L105.8,175.6L107.7,174.4L109.4,172.7L110.2,170.4L110.2,168.4L110.8,167.1L112.4,166.7 M95.6,181.0L94.7,181.8L93.4,182.4L93.7,183.6L94.3,184.9L94.7,186.5L95.8,186.1L96.4,185.1L96.9,183.0L96.4,181.8L95.6,181.0 M98.1,182.4L98.9,183.6L100.8,182.4L101.6,181.4L100.8,180.5L98.9,180.8L98.1,182.4 M80.3,197.9L81.1,198.5L80.3,201.4L79.3,204.3L78.2,202.8L78.0,200.8L79.5,198.5L80.3,197.9 M59.4,209.8L60.4,208.2L62.5,208.0L63.3,209.0L62.5,210.5L60.9,211.7L59.6,211.1L59.4,209.8 M78.8,211.1L80.9,211.5L81.6,214.0L80.4,216.3L80.8,219.1L82.1,219.5L84.3,221.8L84.0,222.6L82.2,221.2L80.6,220.0L78.8,220.2L78.8,218.3L77.7,217.1L77.5,215.4L78.3,215.2L78.8,211.1 M81.3,233.6L83.0,232.1L84.2,231.1L85.5,229.7L86.7,229.5L87.9,229.0L88.5,232.8L87.9,234.8L86.6,236.1L86.3,235.2L84.6,235.0L84.0,232.3L81.3,233.6 M84.8,222.8L86.7,222.9L87.1,225.7L85.9,227.6L84.8,224.7L84.8,222.8 M81.1,224.1L82.9,225.3L82.1,226.6L80.9,226.6L81.1,224.1 M83.0,225.9L83.5,229.2L82.5,228.6L81.7,226.6L83.0,225.9 M84.0,225.3L84.5,227.0L83.2,228.8L84.0,225.3 M78.3,220.8L80.3,221.4L79.8,223.3L78.5,222.8L78.3,220.8 M73.3,230.9L76.7,226.4L77.4,225.1L76.6,227.2L73.8,230.5L73.3,230.9 M60.1,244.1L61.1,243.1L63.3,243.9L64.3,242.1L66.6,240.8L68.2,238.1L70.6,236.9L71.6,235.4L72.7,233.4L74.0,234.4L74.8,235.7L76.6,236.7L75.1,238.5L74.1,240.0L74.6,242.5L76.1,245.1L74.5,245.4L73.8,248.0L72.5,249.9L72.2,251.8L71.4,254.4L69.1,254.0L66.6,253.0L64.6,253.8L62.0,252.6L61.9,250.3L60.6,248.7L60.1,246.0L60.1,244.1 M38.0,236.1L41.5,236.9L43.5,239.6L45.6,242.0L47.7,243.1L50.4,245.1L51.7,246.6L52.8,250.5L54.9,251.3L55.2,253.2L54.9,258.3L53.0,258.4L50.4,255.7L49.1,254.0L47.2,251.3L46.0,248.7L44.3,246.6L43.3,243.9L41.5,242.1L39.6,239.8L38.0,236.1 M54.0,260.2L55.4,258.4L57.8,259.0L59.4,260.0L62.4,260.4L64.1,259.8L65.9,260.4L68.8,261.9L69.1,263.9L66.6,263.1L63.3,262.9L60.9,262.1L58.5,262.1L55.9,261.4L54.0,260.2 M71.4,263.1L76.2,263.3L76.6,264.1L71.6,264.3L71.4,263.1 M77.7,263.5L82.5,262.9L82.4,263.9L77.9,264.1L77.7,263.5 M83.5,267.0L86.3,264.3L89.7,263.3L85.9,265.4L83.5,267.0 M76.9,257.7L77.4,254.8L77.1,253.6L75.9,252.2L76.7,249.5L77.5,247.0L78.0,245.4L79.5,244.5L81.9,245.1L83.5,245.3L85.1,244.5L86.3,243.9L85.0,246.0L83.2,246.4L81.1,246.0L79.5,246.2L78.3,246.8L78.8,249.1L80.4,248.9L82.4,248.6L83.2,249.3L81.1,250.7L80.1,252.2L81.6,253.8L82.9,255.9L81.9,257.5L80.9,256.5L79.8,255.9L79.3,253.4L78.3,252.6L78.5,257.7L76.9,257.7 M90.5,242.7L91.1,244.7L91.9,245.1L90.8,246.4L91.8,248.2L90.1,247.8L89.8,245.1L90.5,242.7 M90.8,252.8L95.3,253.6L94.8,254.4L91.3,253.8L90.8,252.8 M95.6,249.7L97.2,247.8L100.5,248.7L100.8,251.3L102.1,253.4L103.7,251.3L106.1,249.9L108.1,250.3L110.2,251.7L111.8,252.0L114.2,253.2L117.4,254.4L119.5,256.5L119.9,258.1L122.3,258.6L122.8,260.0L121.5,261.6L123.4,262.5L124.7,264.5L126.3,266.8L127.6,267.4L125.5,267.2L122.3,266.4L120.3,263.9L117.9,262.1L116.0,263.1L115.5,264.5L113.7,264.8L111.8,264.7L110.2,262.7L108.5,262.7L106.9,263.3L107.3,261.4L106.4,257.1L102.1,255.5L99.8,254.2L98.5,254.8L97.2,252.4L99.2,251.7L96.9,250.1L95.6,249.7 M123.6,257.7L126.3,256.7L128.7,255.1L130.2,255.7L128.3,257.7L126.3,259.0L123.6,258.3L123.6,257.7 M127.6,252.0L130.4,254.4L131.5,256.1L129.5,253.8L127.6,252.0 M141.8,265.0L143.8,265.6L143.1,266.2L141.8,265.6L141.8,265.0 M143.4,263.3L144.9,265.0L144.4,265.4L143.4,263.9 M148.9,286.2L151.4,288.3L153.8,290.3L153.0,290.3L149.3,287.0L148.9,286.2 M170.4,280.9L172.4,280.8L172.4,282.3L170.6,282.1L170.4,280.9 M173.0,278.8L174.8,278.4L173.8,279.6L173.0,278.8 M153.1,276.1L154.1,277.1L153.8,277.8L153.1,277.1L153.1,276.1 M95.3,271.1L98.2,268.9L102.1,270.7L105.0,270.3L104.5,272.8L102.9,275.5L106.1,278.4L109.0,280.8L111.5,280.9L112.6,276.1L112.7,271.4L114.2,267.8L115.8,271.2L116.3,274.2L118.7,276.1L119.7,280.0L120.3,283.9L124.2,286.4L125.5,290.5L127.6,290.8L128.4,293.6L131.3,296.7L132.1,302.3L131.2,307.1L130.4,310.0L128.4,312.6L126.6,316.3L126.3,319.8L123.1,320.3L120.5,322.9L118.1,320.5L115.8,322.3L112.6,321.3L110.2,319.8L109.0,316.3L107.6,316.1L107.7,314.5L106.6,316.5L105.0,315.5L106.1,313.0L106.8,311.0L105.6,312.2L103.5,314.9L102.4,313.9L100.8,310.6L96.0,308.1L92.2,308.5L87.6,309.7L83.8,312.8L80.3,312.6L77.7,312.8L74.5,315.1L71.4,314.5L69.8,313.3L70.9,311.6L70.9,308.3L69.8,305.2L69.6,303.3L67.4,298.4L67.8,296.9L67.2,294.5L67.7,292.0L67.8,289.7L68.5,289.3L71.4,287.4L74.3,287.0L76.2,285.8L79.5,284.8L81.6,281.9L81.9,279.6L83.5,279.0L84.8,277.1L86.4,275.1L88.7,273.8L91.1,275.7L93.4,275.9L93.7,273.2L95.3,271.1 M117.6,326.0L120.7,326.7L123.6,326.3L123.6,328.7L122.8,330.8L120.8,331.6L118.7,329.1L117.6,326.0 M163.0,313.7L165.6,315.5L166.4,318.6L168.2,318.0L168.8,320.1L171.5,319.9L172.4,320.7L171.4,322.9L169.9,323.4L169.6,325.0L167.2,327.7L166.2,327.1L167.0,325.4L165.4,323.8L164.8,323.0L166.1,321.7L166.1,319.8L165.4,317.8L163.6,315.3L163.0,313.7 M163.0,325.6L165.1,326.5L165.6,327.9L164.3,329.8L163.1,331.6L160.7,332.9L159.6,336.0L157.5,337.4L153.0,336.2L153.5,334.7L155.9,332.4L159.9,330.0L161.0,327.9L162.0,326.3L163.0,325.6 M213.7,207.8L215.2,208.8L215.0,209.8L214.2,210.3L213.7,209.0L213.7,207.8 M212.6,206.3L213.5,206.6L212.9,207.0L212.6,206.3 M210.0,205.1L210.8,205.7L210.2,205.7L210.0,205.1 M207.6,203.9L208.2,204.3L207.7,204.5L207.6,203.9 M258.1,149.0L263.0,152.3L266.4,153.1L264.4,151.4L262.8,150.0L259.6,148.4 M263.6,148.1L263.6,149.8L266.5,151.9L267.5,153.9L266.0,154.7L264.3,153.5L265.1,156.0L265.2,157.4L265.4,160.7L264.6,163.0L264.4,165.5L264.9,168.6L265.7,171.3L266.8,173.3L267.7,173.7L268.3,175.4L268.6,176.0L269.4,177.9L270.7,180.1L272.8,181.0L274.3,181.6L275.9,183.6L277.2,185.3L278.0,187.8L279.0,189.8L281.1,192.7L281.2,194.6L283.0,195.6L284.1,198.5L284.8,199.5L287.2,201.6L287.7,200.4L286.7,198.9L285.6,196.6L284.3,194.2L283.3,192.7L282.2,190.7L280.7,187.8L280.3,185.5L283.6,186.3L285.7,188.4L287.5,192.7L289.3,194.6L290.8,197.3L291.9,199.1L293.7,202.0L295.4,205.3L295.4,207.4L296.7,209.6L298.2,210.5L300.4,212.1L302.4,213.1L304.3,214.4L307.2,216.0L311.3,216.3L312.9,215.6L314.5,215.8L316.1,216.7L316.9,218.5L319.3,220.0L321.8,221.4L323.7,221.4L325.8,222.8L327.4,224.7L328.6,226.4L328.2,228.0L330.5,228.8L331.5,230.5L332.8,231.3L334.0,232.8L335.5,231.9L336.6,231.3L337.3,229.7L338.7,230.5L339.5,232.3L340.0,233.4L340.3,235.4L340.5,239.2L341.0,241.2L339.4,242.1L338.2,244.1L336.3,245.1L336.1,248.0L335.2,251.3L334.7,253.8L334.4,255.7L334.7,258.3L335.0,259.6L337.1,262.5L338.7,265.4L340.5,269.3L341.2,270.7L342.3,273.8L344.1,276.5L346.0,278.8L348.4,280.9L350.2,282.9L352.0,284.8L352.3,286.2L351.8,292.8L351.3,296.3L350.5,299.6L350.2,305.0L349.9,308.1L349.9,311.0L349.6,313.9L348.6,318.4L346.8,319.9L347.0,322.7L347.3,324.6L346.5,327.5L346.0,330.4L345.7,332.4L344.5,335.3L343.6,338.2L343.9,341.1L343.6,344.0L343.6,345.9 M355.0,345.9L355.0,344.0L356.2,341.1L359.2,339.7L356.5,336.2L356.5,334.3L359.7,333.9L360.2,331.4L360.5,329.4L358.9,328.7L360.2,326.9L363.8,326.2L365.2,322.7L369.3,321.9L372.5,320.7L372.8,318.8L372.8,317.4L373.0,315.9L371.2,314.1L373.5,313.9L375.2,314.7L377.7,313.9L379.3,311.4L381.5,308.1L384.0,305.2L386.9,301.3L387.0,298.4L387.5,296.5L389.0,294.5L392.0,292.6L395.8,291.6L397.7,291.4L399.3,289.7L399.9,287.7L400.9,285.8L401.9,282.9L402.5,280.0L402.5,276.1L403.0,273.2L403.3,272.2L404.8,269.9L405.8,267.4L407.4,265.4L409.0,262.5L409.2,261.0L408.7,258.3L406.6,257.1L404.1,255.7L403.3,254.2L400.9,252.6L397.7,252.0L394.5,250.9L392.0,248.9L388.8,248.6L387.4,247.0L384.6,243.7L383.0,238.9L381.2,236.7L376.7,235.6L371.8,233.8L369.3,230.7L366.2,227.6L362.2,226.4L358.1,226.4L354.9,224.1L352.5,225.1L350.0,226.6L349.6,224.3L347.3,225.3L344.7,226.8L343.3,229.0L341.5,230.3L340.8,231.5L339.2,229.7L337.1,228.8L335.5,229.5L333.9,229.7L332.1,228.6L330.7,226.6L330.3,224.7L330.8,222.8L330.8,219.8L331.1,217.9L329.0,216.2L325.0,216.3L322.9,216.3L321.8,216.7L322.6,215.0L323.1,213.1L322.7,211.1L324.2,208.8L325.3,205.3L322.3,205.5L319.7,205.7L319.3,208.2L319.0,209.8L316.9,210.9L314.5,211.1L312.9,211.7L310.8,210.1L310.1,208.6L308.2,205.3L307.6,203.3L308.2,200.4L308.5,197.5L308.5,196.6L308.2,193.7L308.5,192.7L310.5,190.4L312.4,189.4L314.5,189.2L316.9,189.8L318.5,190.4L320.2,188.4L322.6,188.0L325.8,188.0L329.0,189.2L330.7,189.0L331.9,190.7L331.9,192.7L332.4,194.6L333.6,196.6L334.7,198.1L335.7,197.9L336.1,195.6L335.7,193.7L335.3,191.7L334.4,189.8L334.0,187.8L334.4,185.9L335.2,184.7L336.5,183.4L338.2,181.4L339.5,180.7L343.6,178.7L342.9,176.2L342.8,175.2L343.9,173.3L344.4,171.7L346.0,168.6L348.9,167.8L351.7,166.5L352.5,165.9L352.5,164.6L351.2,164.6L351.7,162.2L354.1,161.1L356.5,160.3L357.3,159.3L358.3,159.7L359.4,158.7L360.5,160.3L362.8,160.5L366.0,159.3L367.8,158.7L366.2,157.8L362.5,158.0L361.0,157.0L361.2,154.3L361.3,152.3L358.9,151.4L355.7,150.4L354.1,149.4L352.5,148.1 M369.6,154.7L372.7,154.7L375.9,156.0L379.0,156.4L380.4,154.8L380.2,153.3L379.3,151.9L377.7,151.0L375.4,150.0L374.6,148.8L373.5,147.7 M369.6,154.7L370.2,152.9L371.8,151.4L372.7,149.0L373.5,147.7 M316.8,156.4L321.0,156.6L324.2,156.8L329.2,156.8L328.7,154.8L325.8,152.9L321.8,152.3L318.5,153.9L316.8,156.4 M324.5,158.1L326.8,158.0L326.0,160.1L326.0,163.6L326.0,165.9L324.5,166.3L323.5,164.6L323.7,162.6L324.0,160.7L324.5,158.1 M329.0,157.4L333.1,157.4L335.5,158.7L335.0,160.7L333.6,163.0L332.3,163.0L332.1,161.6L331.0,160.1L330.7,158.5L329.0,157.4 M331.1,166.1L334.7,165.5L337.9,164.0L338.4,164.6L335.5,166.5L332.3,166.7L331.1,166.1 M336.6,163.0L339.5,163.2L342.4,163.0L342.4,161.4L339.9,161.8L337.1,162.2L336.6,163.0 M328.4,204.7L329.8,203.3L332.3,202.4L333.7,202.0L336.0,202.2L338.7,203.0L340.3,203.7L342.4,205.7L344.4,206.8L345.7,207.8L343.7,208.4L341.2,208.4L339.5,207.0L337.6,205.3L335.5,204.7L333.9,203.7L331.5,203.9L329.8,204.7L328.4,204.7 M346.6,208.8L349.2,208.4L351.7,208.8L353.6,210.1L355.0,211.1L354.4,211.7L351.7,211.7L349.7,211.3L347.9,211.9L345.4,211.3L347.1,210.9L348.1,210.1L346.6,208.8 M339.1,211.1L341.5,211.7L342.1,212.1L340.7,212.5L339.1,211.7L339.1,211.1 M356.8,211.1L359.6,211.3L359.2,212.1L357.0,212.1L356.8,211.1 M339.5,194.8L340.8,195.4L340.0,196.0 M340.5,197.5L341.6,198.9L343.3,200.4L343.7,201.6 M366.0,226.0L367.0,226.4L367.0,227.4L366.0,227.4L366.0,226.0 M318.9,247.6L319.8,247.4L319.5,248.9L318.9,248.6L318.9,247.6 M366.2,345.9L369.6,347.1 M456.3,148.8L458.3,149.4L459.9,148.8L461.5,148.8L463.1,148.4L466.3,148.4L468.0,148.1 M468.1,148.1L468.0,150.0L465.9,151.0L465.2,151.4L463.3,150.8L462.9,152.7L460.7,152.5L457.9,153.1L458.7,154.3L462.0,155.2L463.3,156.8L463.6,158.7L463.6,160.7L463.1,162.6L460.7,162.8L458.3,162.6L456.2,162.6L452.6,162.2L450.5,163.8L451.3,165.5L451.5,167.1L450.8,169.0L450.3,170.6L450.2,171.9L451.3,173.3L451.2,175.2L453.4,175.0L455.0,174.8L455.2,176.0L456.5,177.2L457.5,176.2L459.1,175.8L461.5,175.6L462.3,175.6L462.9,174.1L464.4,173.3L465.9,171.9L464.9,170.4L466.3,168.0L467.5,167.3L469.1,166.7L470.7,165.3L470.5,164.6L470.7,163.2L472.8,162.6L473.6,163.0L476.0,163.4L477.6,162.4L479.3,161.6L479.9,160.9L481.7,161.6L482.3,163.2L483.6,164.7L484.9,165.5L487.3,167.1L488.6,167.8L489.8,168.8L490.9,169.6L491.4,171.3L490.9,173.3L492.0,173.1L492.7,171.5L493.2,170.4L492.2,169.4L493.3,168.4L493.8,168.8L494.6,169.8L495.4,169.2L494.6,168.2L492.8,167.1L491.1,166.3L491.5,165.7L489.8,165.5L488.1,164.6L487.3,162.6L485.7,161.4L485.2,159.7L485.4,158.9L487.3,158.3L487.8,158.5L487.5,159.5L488.5,160.1L489.8,161.3L491.4,162.6L493.0,163.6L494.8,164.4L495.4,164.9L497.0,165.9L497.0,167.5L496.7,168.8L497.8,170.2L499.1,172.3L499.8,173.7L500.4,175.6L501.9,176.4L502.7,175.2L503.3,176.2L502.4,174.2L503.8,173.5L504.5,172.9L502.7,171.7L502.4,170.4L502.0,169.4L503.3,168.8L504.3,168.2L505.1,167.7L507.5,167.8L508.3,168.2L507.7,169.0L507.9,169.4L507.9,170.4L508.8,172.3L509.6,174.2L510.8,175.8L512.4,176.0L514.0,176.4L515.9,175.6L518.0,176.6L519.8,177.0L521.3,176.6L522.1,175.8L523.7,175.6L524.2,176.2L523.4,177.2L523.4,178.1L523.5,179.9L522.7,182.0L521.7,183.9L521.1,185.5L519.6,186.5L518.0,186.7L516.4,185.9L514.8,185.9L513.7,186.9L510.8,187.1L507.5,186.7L505.9,185.7L504.3,184.9L503.5,183.9L501.1,183.2L498.2,183.9L497.8,185.9L496.7,187.2L495.6,186.9L493.0,186.9L490.9,184.9L489.0,183.9L486.9,183.2L484.1,183.0L482.5,182.0L481.4,181.0L482.5,180.1L483.3,178.1L482.7,176.2L482.0,174.8L480.9,174.6L479.4,175.4L476.0,175.4L472.8,175.6L470.4,175.6L467.1,176.2L464.6,177.7L462.3,178.7L459.1,178.7L457.0,177.4L456.2,177.5L455.7,179.1L454.5,181.0L453.3,182.0L451.8,183.6L450.7,185.9L450.0,187.8L449.1,189.8L447.8,191.7L445.8,192.9L444.2,194.6L442.3,196.6L441.3,198.5L440.2,200.4L439.4,202.4L438.7,204.3L438.1,206.6L439.2,208.2L439.4,210.1L439.5,212.1L439.2,214.0L438.9,216.0L438.1,217.9L437.3,218.5L438.4,219.8L438.4,221.8L438.7,223.1L439.7,224.7L441.3,226.0L443.4,228.6L444.5,230.5L446.1,232.4L448.1,234.4L450.2,236.3L453.3,238.5L455.8,237.1L459.1,236.9L462.3,237.3L464.7,236.1L465.5,235.9L467.5,235.0L469.6,234.6L471.0,234.6L472.8,235.4L474.4,238.3L476.0,238.7L478.5,238.3L480.1,239.2L481.4,241.2L481.4,243.1L480.9,245.1L480.6,247.0L479.7,248.9L481.0,251.8L483.3,254.4L484.9,256.7L485.4,258.6L486.2,261.6L486.9,264.1L486.9,267.4L487.8,269.3L487.5,271.2L485.9,273.2L485.2,276.1L484.6,280.0L484.1,281.9L485.7,284.8L486.9,287.7L488.1,290.6L489.0,292.6L489.4,295.5L490.1,298.4L491.1,300.4L492.2,302.5L493.3,305.2L494.3,307.7L494.8,310.0L495.1,312.0L495.3,313.2L496.7,313.9L497.8,314.5L500.3,313.7L502.7,313.0L506.9,313.0L508.3,312.0L510.0,311.0L512.4,308.7L514.0,307.1L515.6,304.8L517.2,302.9L518.2,299.4L518.4,297.4L519.2,296.5L522.1,295.1L522.9,293.2L522.6,289.7L522.1,287.7L521.7,285.8L523.7,283.5L525.3,281.5L527.7,279.6L530.1,277.7L531.1,276.1L531.0,273.2L530.6,270.3L530.1,267.4L529.3,264.5L529.0,261.6L528.2,259.6L528.5,256.7L529.7,254.8L531.0,252.8L531.8,251.3L533.4,249.9L535.0,248.0L537.4,245.1L539.0,243.1L541.5,240.2L543.4,237.3L544.7,234.4L546.3,231.5L547.6,228.6L548.4,226.6L548.4,224.1L546.3,224.3L543.1,225.7L538.2,226.8L535.3,224.7L535.2,222.8L533.4,220.4L531.0,217.9L529.3,216.9L528.5,215.0L526.9,212.5L526.1,210.1L525.6,208.2L525.3,205.3L524.5,203.3L522.9,200.4L521.7,197.5L520.5,195.0L519.8,193.7L518.0,189.8L518.0,188.8L518.2,189.0L519.6,192.3L521.7,189.8L521.6,192.7L522.1,193.7L523.4,196.6L524.5,198.5L525.8,200.4L526.9,202.4L528.5,205.3L529.3,207.2L531.0,210.1L532.6,212.1L534.2,214.0L534.7,216.0L535.0,217.9L535.0,219.8L535.5,221.8L536.6,222.4L538.2,222.2L540.6,220.8L543.1,219.8L545.5,218.5L547.9,217.5L549.8,216.3L551.1,215.0L552.8,214.0L555.2,213.1L556.8,212.5L558.4,211.1L559.2,209.2L560.5,207.2L561.6,204.7L562.1,203.3L560.2,201.2L558.4,200.4L556.8,199.5L556.5,196.6L556.0,197.9L555.2,197.5L553.6,199.9L551.1,200.2L548.7,199.9L547.1,199.5L546.3,197.9L545.5,196.6L546.0,194.6L544.7,192.7L543.4,190.7L543.1,188.8L543.9,189.0L545.5,189.2L547.1,190.7L549.5,193.1L551.9,194.6L554.4,195.0L556.8,194.2L558.4,196.6L560.8,197.3L564.1,197.7L567.3,198.1L570.5,198.3L573.8,198.9L574.6,200.8L576.2,202.4L577.0,203.3L578.6,204.3L581.0,206.3L582.6,205.3L583.1,203.9L583.1,206.3L583.1,209.2L583.1,210.1L583.8,213.1L584.7,216.0L585.4,217.9L585.9,219.8L586.4,221.8L586.7,223.7L588.0,225.7L588.8,227.6L589.1,229.5L589.9,230.7L590.7,231.3L591.5,230.5L592.3,229.5L593.6,229.0L594.4,227.0L594.4,224.7L594.8,222.8L595.1,221.6L595.1,218.9L594.8,216.9L596.4,216.0L598.3,215.0L599.6,214.0L600.4,212.7L602.0,211.5L603.6,209.8L605.3,208.2L606.1,206.8L606.1,205.3L607.7,204.7L609.3,204.7L611.7,204.3 M594.4,228.0L595.6,229.5L597.2,231.5L597.8,233.4L597.2,235.0L595.6,235.6L594.8,234.4L594.6,232.4L594.4,230.5L594.4,228.0 M545.0,270.3L546.0,273.2L546.8,276.1L546.3,277.1L545.8,279.0L545.2,280.9L544.7,282.9L544.0,284.8L543.1,287.7L542.1,290.6L541.5,292.6L540.8,294.5L539.8,295.9L538.2,296.5L536.6,295.5L536.0,293.6L536.0,291.6L535.8,289.7L536.3,287.7L537.4,285.8L537.4,283.9L536.6,280.9L537.9,279.0L539.8,277.7L541.5,276.5L543.1,274.2L543.9,271.8L545.0,270.3 M510.6,167.1L512.4,167.1L515.6,167.1L518.0,165.7L520.5,165.5L522.1,166.1L524.5,166.9L526.9,167.5L529.3,167.5L531.0,167.5L532.6,166.5L532.7,165.1L531.8,163.6L529.3,162.6L526.9,161.3L525.3,160.5L524.5,159.5L524.5,159.1L526.1,158.3L528.5,156.6L526.9,155.4L523.7,155.8L522.9,156.4L521.3,158.9L522.9,159.3L523.7,159.7L522.1,160.7L519.6,160.7L518.0,159.3L519.6,158.7L518.8,157.8L516.4,156.8L514.8,157.2L513.5,158.7L512.4,160.7L510.8,162.6L510.4,164.6L510.8,165.9L510.6,167.1 M541.5,156.8L543.9,155.8L547.1,156.2L548.7,157.2L551.1,156.8L551.9,158.7L550.3,159.7L547.9,160.7L548.7,162.6L551.1,164.6L551.9,166.5L551.1,168.4L551.9,170.4L552.8,172.3L552.8,174.2L551.1,175.2L548.7,175.6L546.3,175.2L544.7,174.2L544.7,172.3L545.5,170.4L544.7,168.4L543.9,166.5L542.3,164.6L541.5,162.6L541.5,160.7L540.6,158.7L541.5,156.8 M560.0,156.8L562.4,157.4L562.9,159.7L561.6,161.3L560.0,160.1L560.0,156.8 M517.2,246.4L519.6,246.4L520.5,248.0L520.1,249.9L520.1,251.5L518.5,251.8L517.2,250.5L516.9,248.6L517.2,246.4 M512.7,253.6L513.3,256.7L514.0,259.6L515.0,261.6L515.9,263.7 M513.2,253.6L513.8,256.7L514.6,259.6L515.6,261.6L516.3,263.5 M520.5,265.6L520.9,268.3L521.4,271.2L521.7,274.2 M520.9,265.6L521.4,268.3L521.9,271.2L522.1,274.2 M485.7,172.9L490.6,172.7L490.1,175.2L488.1,175.8L485.7,174.1L485.7,172.9 M478.8,167.1L481.4,167.7L481.0,171.1L479.3,171.5L478.9,169.4L478.8,167.1 M479.4,163.6L480.9,163.8L480.7,166.7L479.4,165.9L479.4,163.6 M503.5,178.1L508.0,178.7L505.1,179.1L503.5,178.5L503.5,178.1 M517.7,178.9L521.3,177.9L520.3,179.5L518.0,179.9L517.7,178.9 M551.9,222.6L553.4,222.8L552.1,223.1L551.9,222.6 M119.0,162.4L121.1,161.3L123.1,159.7L125.5,158.1L127.1,157.2 M554.9,287.5L555.7,287.7L555.3,288.3L554.9,287.5 M558.2,286.0L558.9,286.2L558.6,286.8L558.2,286.0 M487.8,220.6L489.1,221.0L489.3,222.2L488.1,222.6L487.8,220.6 M360.2,267.4L361.0,267.8L361.0,269.9L360.2,269.9L360.2,267.4 M186.7,273.2L188.3,273.8L187.7,274.4L186.7,273.8L186.7,273.2 M224.0,280.9L224.7,281.1L224.4,281.7L224.0,280.9 M584.6,157.8L585.9,156.2L588.3,156.6L590.7,156.8L593.1,156.2L593.1,157.4L590.7,157.8L588.3,157.6L585.9,159.1L584.6,157.8 M365.7,213.6L366.0,214.2 M366.0,215.2L366.4,216.2 M366.8,218.1L367.2,219.1 M367.0,220.0L367.2,220.6 M346.0,168.2L347.6,168.0L349.6,167.5L348.1,167.7L346.0,168.2 M362.2,157.0L363.8,156.6L365.4,157.0L364.1,157.4L362.2,157.0 M367.6,158.5L368.3,156.0L369.3,156.0L368.6,157.8L367.6,158.5 M364.6,150.4L365.4,151.2L366.2,151.6L365.7,150.8L364.6,150.4 M352.3,166.1L352.6,165.7L352.5,165.3L352.1,165.7" fill="none" stroke="#000" stroke-width="1" stroke-linejoin="round"/>
</g>
<rect x="29" y="150" width="582" height="194" fill="none" stroke="#000" stroke-width="2" shape-rendering="crispEdges"/>
<g shape-rendering="crispEdges" filter="url(#bin2)">
<text x="9.1" y="154.1" font-size="9.7" textLength="15.2" lengthAdjust="spacingAndGlyphs">50N</text>
<rect x="27" y="150" width="1" height="1" fill="#000"/>
<text x="9.1" y="173.5" font-size="9.7" textLength="15.2" lengthAdjust="spacingAndGlyphs">40N</text>
<rect x="27" y="169" width="1" height="1" fill="#000"/>
<text x="9.1" y="192.9" font-size="9.7" textLength="15.2" lengthAdjust="spacingAndGlyphs">30N</text>
<rect x="27" y="189" width="1" height="1" fill="#000"/>
<text x="9.1" y="212.3" font-size="9.7" textLength="15.2" lengthAdjust="spacingAndGlyphs">20N</text>
<rect x="27" y="208" width="1" height="1" fill="#000"/>
<text x="9.1" y="231.7" font-size="9.7" textLength="15.2" lengthAdjust="spacingAndGlyphs">10N</text>
<rect x="27" y="228" width="1" height="1" fill="#000"/>
<text x="13.8" y="251.1" font-size="9.7" textLength="10.5" lengthAdjust="spacingAndGlyphs">EQ</text>
<rect x="27" y="247" width="1" height="1" fill="#000"/>
<text x="9.1" y="270.5" font-size="9.7" textLength="15.2" lengthAdjust="spacingAndGlyphs">10S</text>
<rect x="27" y="266" width="1" height="1" fill="#000"/>
<text x="9.1" y="289.9" font-size="9.7" textLength="15.2" lengthAdjust="spacingAndGlyphs">20S</text>
<rect x="27" y="286" width="1" height="1" fill="#000"/>
<text x="9.1" y="309.3" font-size="9.7" textLength="15.2" lengthAdjust="spacingAndGlyphs">30S</text>
<rect x="27" y="305" width="1" height="1" fill="#000"/>
<text x="9.1" y="328.7" font-size="9.7" textLength="15.2" lengthAdjust="spacingAndGlyphs">40S</text>
<rect x="27" y="325" width="1" height="1" fill="#000"/>
<text x="9.1" y="348.1" font-size="9.7" textLength="15.2" lengthAdjust="spacingAndGlyphs">50S</text>
<rect x="27" y="344" width="1" height="1" fill="#000"/>
<text x="68.8" y="356" font-size="10" textLength="19.4" lengthAdjust="spacingAndGlyphs">120E</text>
<rect x="78" y="345" width="1" height="2" fill="#000"/>
<text x="168.8" y="356" font-size="10" textLength="13.5" lengthAdjust="spacingAndGlyphs">180</text>
<rect x="175" y="345" width="1" height="2" fill="#000"/>
<text x="262.1" y="356" font-size="10" textLength="20.9" lengthAdjust="spacingAndGlyphs">120W</text>
<rect x="272" y="345" width="1" height="2" fill="#000"/>
<text x="360.4" y="356" font-size="10" textLength="16.3" lengthAdjust="spacingAndGlyphs">60W</text>
<rect x="368" y="345" width="1" height="2" fill="#000"/>
<text x="463.3" y="356" font-size="10" textLength="4.4" lengthAdjust="spacingAndGlyphs">0</text>
<rect x="465" y="345" width="1" height="2" fill="#000"/>
<text x="555.5" y="356" font-size="10" textLength="14.1" lengthAdjust="spacingAndGlyphs">60E</text>
<rect x="562" y="345" width="1" height="2" fill="#000"/>
<rect x="111.0" y="419.5" width="46.4" height="12" fill="#ff5a22" stroke="#000" stroke-width="1"/>
<rect x="157.4" y="419.5" width="46.4" height="12" fill="#ff8232" stroke="#000" stroke-width="1"/>
<rect x="203.9" y="419.5" width="46.4" height="12" fill="#ffe6c6" stroke="#000" stroke-width="1"/>
<rect x="250.3" y="419.5" width="46.4" height="12" fill="#e6ffe6" stroke="#000" stroke-width="1"/>
<rect x="296.8" y="419.5" width="46.4" height="12" fill="#b0ffcc" stroke="#000" stroke-width="1"/>
<rect x="343.2" y="419.5" width="46.4" height="12" fill="#6aff7a" stroke="#000" stroke-width="1"/>
<rect x="389.6" y="419.5" width="46.4" height="12" fill="#30e03c" stroke="#000" stroke-width="1"/>
<rect x="436.1" y="419.5" width="46.4" height="12" fill="#0abe0a" stroke="#000" stroke-width="1"/>
<rect x="482.5" y="419.5" width="46.4" height="12" fill="#088808" stroke="#000" stroke-width="1"/>
<path d="M111.5,419.5 L108.5,419.5 L108.5,420.5 L100.5,420.5 L100.5,421.5 L92.5,421.5 L92.5,422.5 L84.5,422.5 L84.5,423.5 L76.5,423.5 L76.5,424.5 L68.5,424.5 L68.5,425.5 L64.5,425.5 L64.5,425.5 L68.5,425.5 L68.5,426.5 L76.5,426.5 L76.5,427.5 L84.5,427.5 L84.5,428.5 L92.5,428.5 L92.5,429.5 L100.5,429.5 L100.5,430.5 L108.5,430.5 L108.5,431.5 L111.5,431.5Z" fill="#b40000" stroke="#000" stroke-width="1" stroke-linejoin="miter"/>
<path d="M528.5,419.5 L531.5,419.5 L531.5,420.5 L539.5,420.5 L539.5,421.5 L547.5,421.5 L547.5,422.5 L555.5,422.5 L555.5,423.5 L563.5,423.5 L563.5,424.5 L571.5,424.5 L571.5,425.5 L575.5,425.5 L575.5,425.5 L571.5,425.5 L571.5,426.5 L563.5,426.5 L563.5,427.5 L555.5,427.5 L555.5,428.5 L547.5,428.5 L547.5,429.5 L539.5,429.5 L539.5,430.5 L531.5,430.5 L531.5,431.5 L528.5,431.5Z" fill="#006400" stroke="#000" stroke-width="1" stroke-linejoin="miter"/>
<text x="103.11 112.15" y="442" font-size="10.8"><tspan font-size="14" dy="0.9">−</tspan><tspan dy="-0.9">6</tspan></text>
<text x="150.21 159.55" y="442" font-size="10.8"><tspan font-size="14" dy="0.9">−</tspan><tspan dy="-0.9">4</tspan></text>
<text x="196.21 205.26" y="442" font-size="10.8"><tspan font-size="14" dy="0.9">−</tspan><tspan dy="-0.9">2</tspan></text>
<text x="247.58" y="442" font-size="10.8">0</text>
<text x="293.66" y="442" font-size="10.8">2</text>
<text x="340.85" y="442" font-size="10.8">4</text>
<text x="387.65" y="442" font-size="10.8">6</text>
<text x="433.63" y="442" font-size="10.8">8</text>
<text x="476.88 484.48" y="442" font-size="10.8">10</text>
<text x="523.58 529.86" y="442" font-size="10.8">12</text>
<text x="572.05 578.11 586.44" y="443.6" font-size="10.8">hPa</text>
</g>
</svg>
</body></html>
